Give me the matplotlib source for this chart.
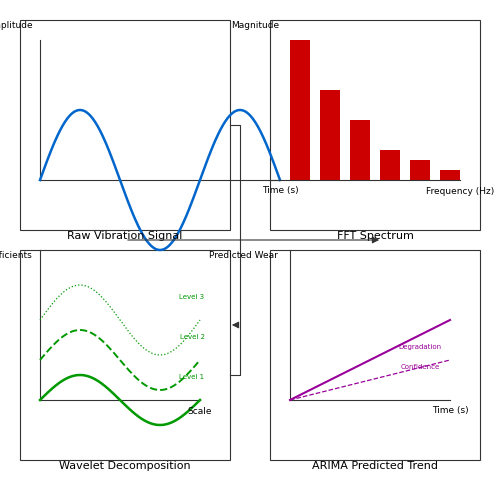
import numpy as np
import matplotlib
matplotlib.use("Agg")
import matplotlib.pyplot as plt

fft_mag = [140, 90, 60, 30, 20, 10]
fft_x = [290, 320, 350, 380, 410, 440]
wave_levels = ["Level 1", "Level 2", "Level 3"]
wave_offset = [400, 360, 320]
wave_amp = [25, 30, 35]
wave_style = ["-", "--", ":"]
wave_lw = [1.8, 1.4, 0.9]

fig = plt.figure(figsize=(5, 5), dpi=100)
ax = fig.add_axes([0, 0, 1, 1])
ax.set_xlim(0, 500); ax.set_ylim(500, 0); ax.axis("off")
k = "#333333"
fs = 6.5
tf = 8
for (x0, y0) in [(20, 20), (270, 20), (20, 250), (270, 250)]:
    ax.add_patch(plt.Rectangle((x0, y0), 210, 210, fill=False, ec=k, lw=0.8))

# panel 1
ax.plot([40, 40], [40, 180], color=k, lw=0.8)
ax.plot([40, 280], [180, 180], color=k, lw=0.8)
x = np.linspace(40, 280, 300)
ax.plot(x, 180 - 70*np.sin(2*np.pi*(x-40)/160), color="#0066cc", lw=1.8)
ax.text(10, 26, "Amplitude", ha="center", va="center", fontsize=fs)
ax.text(280, 191, "Time (s)", ha="center", va="center", fontsize=fs)
ax.text(125, 236, "Raw Vibration Signal", ha="center", va="center", fontsize=tf)

# panel 2
ax.bar(fft_x, [-m for m in fft_mag], bottom=180, width=20, align="edge", color="#cc0000")
ax.plot([270, 460], [180, 180], color=k, lw=0.8)
ax.text(255, 26, "Magnitude", ha="center", va="center", fontsize=fs)
ax.text(460, 191, "Frequency (Hz)", ha="center", va="center", fontsize=fs)
ax.text(375, 236, "FFT Spectrum", ha="center", va="center", fontsize=tf)

# connectors
ax.plot([230, 240, 240, 230], [125, 125, 375, 375], color=k, lw=0.8)
ax.annotate("", xy=(229, 325), xytext=(240, 325), arrowprops=dict(arrowstyle="-|>", color=k, lw=0.8))
ax.annotate("", xy=(382, 240), xytext=(125, 240), arrowprops=dict(arrowstyle="-|>", color=k, lw=0.8))

# panel 3
ax.plot([40, 40], [250, 400], color=k, lw=0.8)
ax.plot([40, 200], [400, 400], color=k, lw=0.8)
x = np.linspace(40, 200, 200)
for name, off, a, ls, lw, ly in zip(wave_levels, wave_offset, wave_amp, wave_style, wave_lw, [377, 337, 297]):
    ax.plot(x, off - a*np.sin(2*np.pi*(x-40)/160), color="#009900", ls=ls, lw=lw)
    ax.text(192, ly, name, ha="center", va="center", fontsize=5, color="#009900")
ax.text(200, 411, "Scale", ha="center", va="center", fontsize=fs)
ax.text(5, 256, "Coefficients", ha="center", va="center", fontsize=fs)
ax.text(125, 466, "Wavelet Decomposition", ha="center", va="center", fontsize=tf)

# panel 4
ax.plot([290, 290], [250, 400], color=k, lw=0.8)
ax.plot([290, 450], [400, 400], color=k, lw=0.8)
ax.plot([290, 450], [400, 320], color="#990099", lw=1.5)
ax.plot([290, 450], [400, 360], color="#990099", lw=0.9, ls="--")
ax.text(420, 347, "Degradation", ha="center", va="center", fontsize=5, color="#990099")
ax.text(420, 367, "Confidence", ha="center", va="center", fontsize=5, color="#990099")
ax.text(450, 411, "Time (s)", ha="center", va="center", fontsize=fs)
ax.text(243, 256, "Predicted Wear", ha="center", va="center", fontsize=fs)
ax.text(375, 466, "ARIMA Predicted Trend", ha="center", va="center", fontsize=tf)

fig.savefig("out.png", dpi=100)
